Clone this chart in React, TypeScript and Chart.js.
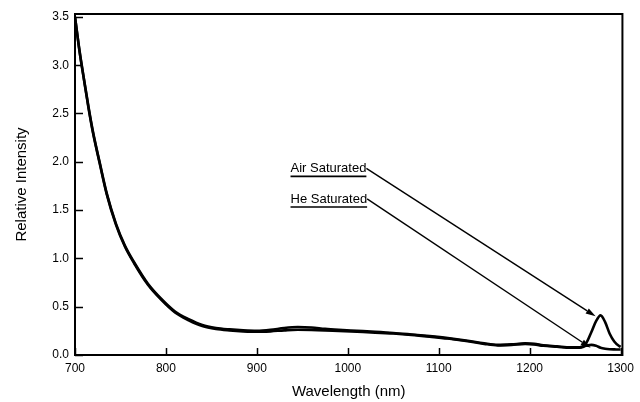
import React, { useEffect, useRef } from "react";
import { Chart, registerables } from "chart.js";

Chart.register(...registerables);

// Emission spectra, wavelength in nm
const wavelengths = [
  700, 705, 710, 715, 720, 727, 735, 745, 755, 765, 780, 795, 810, 825, 840,
  855, 870, 885, 900, 915, 930, 945, 960, 975, 990, 1010, 1030, 1050, 1070,
  1090, 1110, 1130, 1150, 1165, 1180, 1195, 1205, 1215, 1230, 1245, 1255,
  1262, 1268, 1273, 1278, 1283, 1288, 1293, 1298, 1300,
];

const airSaturated = [
  3.5, 3.15, 2.85, 2.56, 2.3, 2.0, 1.67, 1.36, 1.13, 0.96, 0.74, 0.58, 0.45,
  0.37, 0.31, 0.28, 0.265, 0.255, 0.25, 0.26, 0.28, 0.29, 0.285, 0.27, 0.26,
  0.25, 0.24, 0.228, 0.212, 0.195, 0.175, 0.15, 0.12, 0.105, 0.11, 0.12,
  0.115, 0.1, 0.09, 0.08, 0.08, 0.12, 0.24, 0.35, 0.41, 0.34, 0.22, 0.14,
  0.095, 0.085,
];

const heSaturated = [
  3.5, 3.14, 2.84, 2.55, 2.29, 1.99, 1.66, 1.35, 1.12, 0.95, 0.73, 0.57, 0.44,
  0.36, 0.3, 0.27, 0.255, 0.245, 0.24, 0.245, 0.255, 0.262, 0.26, 0.255,
  0.248, 0.24, 0.232, 0.222, 0.208, 0.19, 0.17, 0.145, 0.115, 0.1, 0.105,
  0.115, 0.11, 0.095, 0.085, 0.075, 0.075, 0.095, 0.105, 0.095, 0.075, 0.065,
  0.06, 0.058, 0.057, 0.056,
];

const xTickValues = [700, 800, 900, 1000, 1100, 1200, 1300];
const yTickValues = [0, 0.5, 1.0, 1.5, 2.0, 2.5, 3.0, 3.5];

// Callout labels: text anchor and arrow tip, both in data units
const calloutLabels = ["Air Saturated", "He Saturated"];
const calloutAnchors = [
  { x: 937, y: 1.89 },
  { x: 937, y: 1.574 },
];
const calloutTips = [
  { x: 1272.5, y: 0.4 },
  { x: 1267, y: 0.075 },
];

const FONT = "'Liberation Sans', Arial, Helvetica, sans-serif";
const INK = "#000";

const framePlugin = {
  id: "frameAndTicks",
  afterDatasetsDraw(chart: any) {
    const { ctx, chartArea } = chart;
    const { left, top, right, bottom } = chartArea;
    const xs = chart.scales.x;
    const ys = chart.scales.y;
    ctx.save();
    ctx.strokeStyle = INK;
    ctx.lineWidth = 2;
    ctx.strokeRect(left, top, right - left, bottom - top);
    ctx.lineWidth = 1.5;
    ctx.beginPath();
    for (const v of xTickValues) {
      const px = Math.round(xs.getPixelForValue(v)) + 0.5;
      ctx.moveTo(px, bottom);
      ctx.lineTo(px, bottom - 7);
    }
    for (const v of yTickValues) {
      const py = Math.round(ys.getPixelForValue(v)) + 0.5;
      ctx.moveTo(left, py);
      ctx.lineTo(left + 8, py);
    }
    ctx.stroke();

    // callouts
    ctx.font = `13px ${FONT}`;
    ctx.fillStyle = INK;
    ctx.textBaseline = "alphabetic";
    ctx.textAlign = "left";
    calloutLabels.forEach((label, i) => {
      const tx = xs.getPixelForValue(calloutAnchors[i].x);
      const ty = ys.getPixelForValue(calloutAnchors[i].y);
      const w = ctx.measureText(label).width;
      ctx.fillText(label, tx, ty);
      ctx.lineWidth = 1.6;
      ctx.beginPath();
      ctx.moveTo(tx, ty + 4);
      ctx.lineTo(tx + w, ty + 4);
      ctx.stroke();

      const sx = tx + w;
      const sy = ty - 4;
      const ex = xs.getPixelForValue(calloutTips[i].x);
      const ey = ys.getPixelForValue(calloutTips[i].y);
      const ang = Math.atan2(ey - sy, ex - sx);
      const head = 10;
      const bx = ex - head * Math.cos(ang);
      const by = ey - head * Math.sin(ang);
      ctx.lineWidth = 1.4;
      ctx.beginPath();
      ctx.moveTo(sx, sy);
      ctx.lineTo(bx, by);
      ctx.stroke();
      ctx.beginPath();
      ctx.moveTo(ex, ey);
      ctx.lineTo(bx + 3 * Math.sin(ang), by - 3 * Math.cos(ang));
      ctx.lineTo(bx - 3 * Math.sin(ang), by + 3 * Math.cos(ang));
      ctx.closePath();
      ctx.fill();
    });
    ctx.restore();
  },
};

export default function App() {
  const canvasRef = useRef<HTMLCanvasElement | null>(null);

  useEffect(() => {
    const canvas = canvasRef.current;
    if (!canvas) return;
    const toPoints = (vals: number[]) =>
      wavelengths.map((w, i) => ({ x: w, y: vals[i] }));

    const chart = new Chart(canvas, {
      type: "line",
      data: {
        datasets: [
          {
            label: "Air Saturated",
            data: toPoints(airSaturated),
            borderColor: INK,
            borderWidth: 2.6,
            pointRadius: 0,
            cubicInterpolationMode: "monotone",
            fill: false,
          },
          {
            label: "He Saturated",
            data: toPoints(heSaturated),
            borderColor: INK,
            borderWidth: 2.6,
            pointRadius: 0,
            cubicInterpolationMode: "monotone",
            fill: false,
          },
        ],
      },
      options: {
        animation: false,
        responsive: false,
        devicePixelRatio: 1,
        layout: { padding: { left: 0, top: 14, right: 13, bottom: 0 } },
        plugins: {
          legend: { display: false },
          tooltip: { enabled: false },
        },
        scales: {
          x: {
            type: "linear",
            min: 700,
            max: 1302,
            border: { display: false },
            grid: { display: false, drawTicks: false },
            afterBuildTicks: (scale: any) => {
              scale.ticks = xTickValues.map((v) => ({ value: v }));
            },
            afterFit: (scale: any) => {
              scale.height = 47;
            },
            ticks: {
              color: INK,
              padding: 6,
              maxRotation: 0,
              autoSkip: false,
              font: { family: FONT, size: 12 },
              callback: (v: any) => String(v),
            },
            title: {
              display: true,
              text: "Wavelength (nm)",
              color: INK,
              font: { family: FONT, size: 15 },
              padding: { top: 0, bottom: 1 },
            },
          },
          y: {
            type: "linear",
            min: 0,
            max: 3.53,
            border: { display: false },
            grid: { display: false, drawTicks: false },
            afterBuildTicks: (scale: any) => {
              scale.ticks = yTickValues.map((v) => ({ value: v }));
            },
            afterFit: (scale: any) => {
              scale.width = 75;
            },
            ticks: {
              color: INK,
              padding: 6,
              autoSkip: false,
              font: { family: FONT, size: 12 },
              callback: (v: any) => Number(v).toFixed(1),
            },
            title: {
              display: true,
              text: "Relative Intensity",
              color: INK,
              font: { family: FONT, size: 15 },
              padding: { top: 13, bottom: 0 },
            },
          },
        },
      },
      plugins: [framePlugin],
    });

    return () => chart.destroy();
  }, []);

  return (
    <div
      style={{
        position: "absolute",
        left: 0,
        top: 0,
        width: 640,
        height: 402,
        background: "#fff",
      }}
    >
      <canvas ref={canvasRef} width={640} height={402} />
    </div>
  );
}
